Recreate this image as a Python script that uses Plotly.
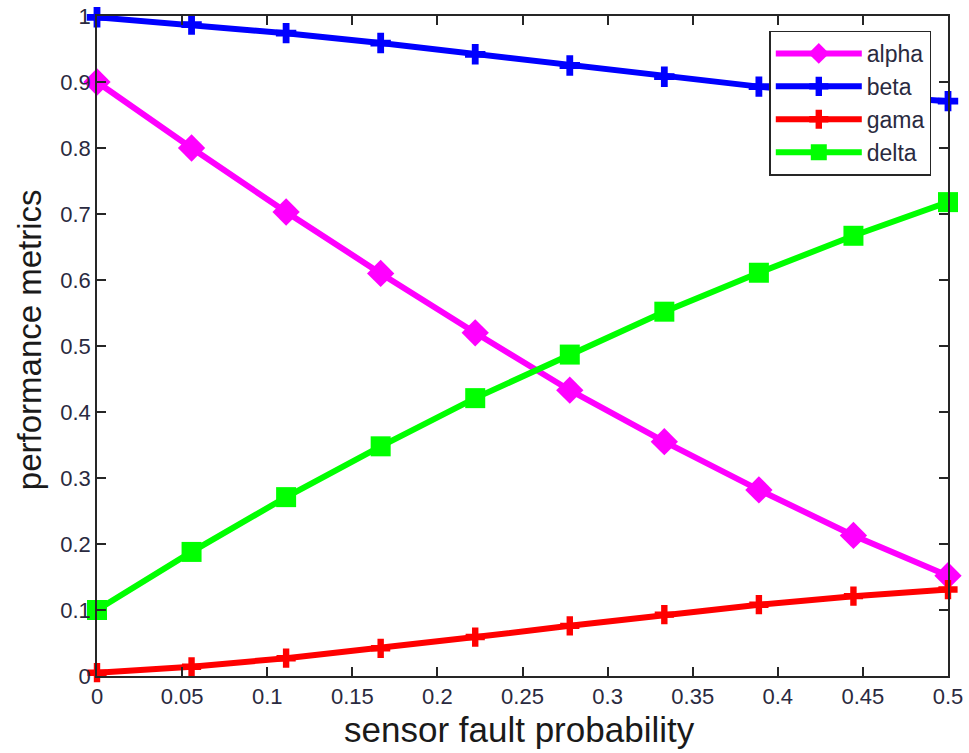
import plotly.graph_objects as go

x_vals = [0, 1/18, 2/18, 3/18, 4/18, 5/18, 6/18, 7/18, 8/18, 9/18]
alpha = [0.900, 0.800, 0.703, 0.610, 0.520, 0.433, 0.355, 0.282, 0.213, 0.152]
beta = [0.998, 0.987, 0.974, 0.959, 0.942, 0.925, 0.908, 0.893, 0.881, 0.871]
gama = [0.005, 0.014, 0.027, 0.042, 0.059, 0.076, 0.093, 0.108, 0.121, 0.131]
delta = [0.100, 0.188, 0.271, 0.348, 0.421, 0.487, 0.552, 0.611, 0.667, 0.718]

x_ticks = [0, 0.05, 0.1, 0.15, 0.2, 0.25, 0.3, 0.35, 0.4, 0.45, 0.5]
x_ticktext = ["0", "0.05", "0.1", "0.15", "0.2", "0.25", "0.3", "0.35", "0.4", "0.45", "0.5"]
y_ticks = [0, 0.1, 0.2, 0.3, 0.4, 0.5, 0.6, 0.7, 0.8, 0.9, 1]
y_ticktext = ["0", "0.1", "0.2", "0.3", "0.4", "0.5", "0.6", "0.7", "0.8", "0.9", "1"]

series = [
    ("alpha", alpha, "#ff00ff", "diamond", 21),
    ("beta", beta, "#0000ff", "cross", 17),
    ("gama", gama, "#ff0000", "cross", 16),
    ("delta", delta, "#00ff00", "square", 20),
]

fig = go.Figure()
for name, vals, color, sym, size in series:
    fig.add_trace(go.Scatter(
        x=x_vals, y=vals, name=name, mode="lines+markers",
        line=dict(color=color, width=6),
        marker=dict(symbol=sym, size=size, color=color),
        cliponaxis=False,
    ))

axis_common = dict(
    showline=True, linecolor="#262626", linewidth=1.5, mirror="ticks",
    ticks="inside", ticklen=9, tickcolor="#262626", tickwidth=1.5,
    showgrid=False, zeroline=False, automargin=False,
    tickfont=dict(family="Liberation Sans, Arial, sans-serif", size=22, color="#2a2a40"),
)

fig.update_layout(
    width=969, height=753,
    margin=dict(l=97, r=21, t=16, b=77),
    paper_bgcolor="white", plot_bgcolor="white",
    font=dict(family="Liberation Sans, Arial, sans-serif", color="#1a1a1a"),
    xaxis=dict(range=[0, 0.5], tickvals=x_ticks, ticktext=x_ticktext, ticklabelstandoff=0,
               **axis_common),
    yaxis=dict(range=[0, 1], tickvals=y_ticks, ticktext=y_ticktext, ticklabelstandoff=0,
               **axis_common),
    legend=dict(x=0.79, y=0.978, xanchor="left", yanchor="top",
                bgcolor="white", bordercolor="#262626", borderwidth=1.5,
                itemwidth=86, entrywidth=168,
                font=dict(size=23, color="#2a2a40")),
    showlegend=True,
    annotations=[
        dict(text="sensor fault probability", xref="paper", yref="paper",
             x=0.496, y=-0.081, xanchor="center", yanchor="middle", showarrow=False,
             font=dict(size=35, color="#1a1a1a")),
        dict(text="performance metrics", xref="paper", yref="paper",
             x=-0.079, y=0.51, xanchor="center", yanchor="middle", showarrow=False,
             textangle=-90, font=dict(size=33, color="#1a1a1a")),
    ],
)

fig.write_html("out.html")
